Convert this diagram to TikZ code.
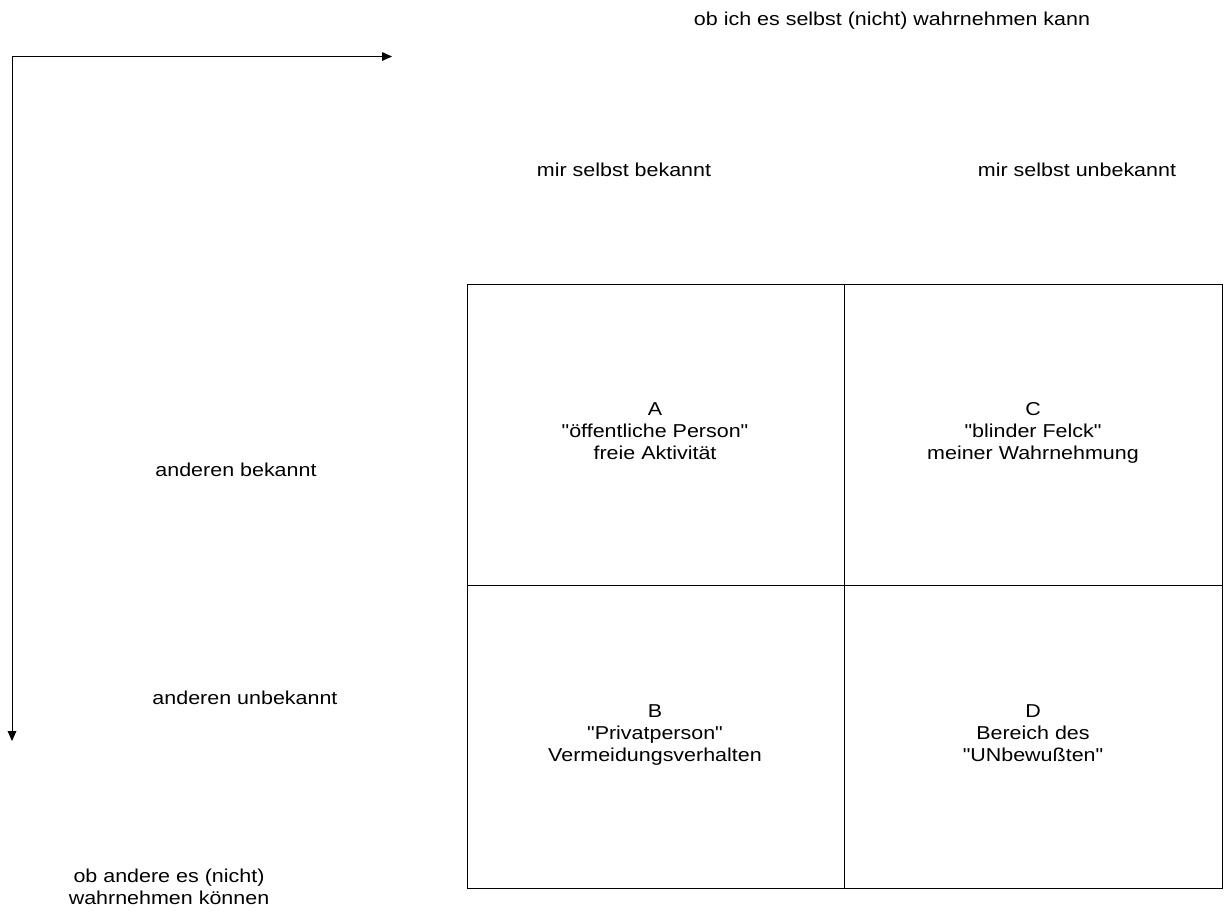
\documentclass[tikz,border=0pt]{standalone}
\usepackage{fontspec}
\setmainfont{Liberation Sans}[FakeStretch=1.15,Ligatures=TeXOff]
\usetikzlibrary{arrows.meta}
\begin{document}
\begin{tikzpicture}[x=0.75pt,y=-0.75pt,
  lbl/.style={inner sep=0pt,align=center,font=\fontsize{14}{16.5}\selectfont},
  edge/.style={line width=0.75pt},
  axis/.style={line width=0.75pt,-{Triangle[length=7.5pt,width=6.5pt]}}]
\useasboundingbox (0,0) rectangle (1226,915);
% axes
\coordinate (corner) at (12,56.5);
\coordinate (xend) at (392,56.5);
\coordinate (yend) at (12,741);
\draw[axis] (corner) -- (xend);
\draw[axis] (corner) -- (yend);
% four-field grid
\coordinate (tl) at (467,284);
\coordinate (br) at (1222,888);
\draw[edge] (tl) rectangle (br);
\draw[edge] (844,284) -- (844,888);
\draw[edge] (467,585) -- (1222,585);
% headings
\node[lbl] (top) at (892,21) {ob ich es selbst (nicht) wahrnehmen kann};
\node[lbl] (kn) at (624,170) {mir selbst bekannt};
\node[lbl] (unk) at (1077,170) {mir selbst unbekannt};
\node[lbl] (ab) at (236,470) {anderen bekannt};
\node[lbl] (au) at (245,698) {anderen unbekannt};
\node[lbl] (left) at (169,887) {ob andere es (nicht)\\wahrnehmen können};
% fields
\node[lbl] (A) at (655,431) {A\\"öffentliche Person"\\freie Aktivität};
\node[lbl] (C) at (1033,433) {C\\"blinder Felck"\\meiner Wahrnehmung};
\node[lbl] (B) at (655,735) {B\\"Privatperson"\\Vermeidungsverhalten};
\node[lbl] (D) at (1033,733) {D\\Bereich des\\"UNbewußten"};
\end{tikzpicture}
\end{document}
